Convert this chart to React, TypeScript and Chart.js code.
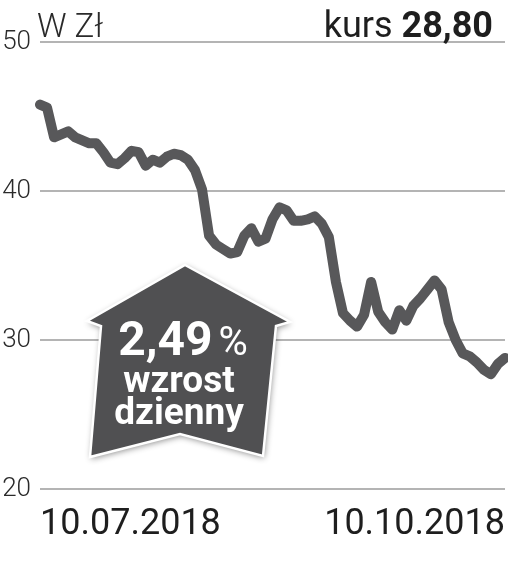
import React, { useEffect, useRef } from "react";
import { Chart, registerables } from "chart.js";

Chart.register(...registerables);

const startLabel = "10.07.2018";
const endLabel = "10.10.2018";
const prices = [
  45.8, 45.6, 43.6, 43.8, 44.0, 43.6, 43.4, 43.2, 43.2, 42.6,
  41.9, 41.8, 42.2, 42.7, 42.6, 41.7, 42.1, 41.9, 42.3, 42.5,
  42.4, 42.1, 41.4, 40.1, 37.0, 36.4, 36.1, 35.8, 35.9, 37.0,
  37.5, 36.6, 36.8, 38.1, 38.9, 38.7, 38.0, 38.0, 38.1, 38.3,
  37.8, 36.9, 33.9, 31.8, 31.3, 30.9, 31.7, 33.9, 31.9, 31.2,
  30.7, 32.0, 31.3, 32.3, 32.8, 33.4, 34.0, 33.4, 31.2, 30.0,
  29.1, 28.9, 28.5, 28.0, 27.7, 28.4, 28.8,
];
const categories = prices.map((_, i) =>
  i === 0 ? startLabel : i === prices.length - 1 ? endLabel : ""
);
const yTicks = [20, 30, 40, 50];
const unitLabel = "W Zł";
const rateLabel = "kurs";
const rateValue = "28,80";
const changeValue = "2,49";
const changeUnit = "%";
const changeLines = ["wzrost", "dzienny"];

const overlayPlugin = {
  id: "overlay",
  afterDraw(chart: any) {
    const ctx = chart.ctx as CanvasRenderingContext2D;
    ctx.save();
    // header texts
    ctx.fillStyle = "#2a2a2a";
    ctx.textBaseline = "alphabetic";
    ctx.textAlign = "left";
    ctx.font = "300 33px Roboto";
    ctx.fillText(unitLabel, 37, 37);
    ctx.font = "bold 36px Roboto";
    const vw = ctx.measureText(rateValue).width;
    ctx.fillStyle = "#1e1e1e";
    ctx.fillText(rateValue, 493 - vw, 37);
    ctx.font = "400 36px Roboto";
    const rw = ctx.measureText(rateLabel + " ").width;
    ctx.fillText(rateLabel, 493 - vw - rw, 37);

    // badge
    const pts: [number, number][] = [
      [185, 265],
      [290, 322],
      [276, 326],
      [263, 456],
      [180, 434],
      [90, 457],
      [101, 326],
      [87, 321],
    ];
    ctx.beginPath();
    pts.forEach(([x, y], i) => (i === 0 ? ctx.moveTo(x, y) : ctx.lineTo(x, y)));
    ctx.closePath();
    ctx.shadowColor = "rgba(0,0,0,0.45)";
    ctx.shadowBlur = 6;
    ctx.shadowOffsetX = 1;
    ctx.shadowOffsetY = 2;
    ctx.fillStyle = "#505052";
    ctx.fill();
    ctx.shadowColor = "transparent";
    ctx.lineWidth = 2.5;
    ctx.strokeStyle = "#ffffff";
    ctx.lineJoin = "miter";
    ctx.stroke();

    ctx.fillStyle = "#ffffff";
    ctx.font = "bold 48px Roboto";
    const cw = ctx.measureText(changeValue).width;
    ctx.font = "400 40px Roboto";
    const pw = ctx.measureText(changeUnit).width;
    const gap = 6;
    const total = cw + gap + pw;
    const cx = 183;
    const x0 = cx - total / 2;
    ctx.font = "bold 48px Roboto";
    ctx.fillText(changeValue, x0, 355);
    ctx.font = "400 40px Roboto";
    ctx.fillText(changeUnit, x0 + cw + gap, 355);
    ctx.textAlign = "center";
    ctx.font = "bold 37px Roboto";
    ctx.fillText(changeLines[0], cx - 4, 392);
    ctx.fillText(changeLines[1], cx - 4, 424);
    ctx.restore();
  },
};

export default function App() {
  const ref = useRef<HTMLCanvasElement | null>(null);
  useEffect(() => {
    document.body.style.margin = "0";
    const chart = new Chart(ref.current!, {
      type: "line",
      data: {
        labels: categories,
        datasets: [
          {
            data: prices,
            borderColor: "#58585a",
            borderWidth: 10,
            borderCapStyle: "round",
            borderJoinStyle: "round",
            pointRadius: 0,
            pointHoverRadius: 0,
            tension: 0,
            fill: false,
          },
        ],
      },
      options: {
        animation: false,
        responsive: false,
        devicePixelRatio: 1,
        layout: { autoPadding: false, padding: { top: 42, right: 3, left: 0, bottom: 0 } },
        plugins: { legend: { display: false }, tooltip: { enabled: false } },
        scales: {
          x: {
            grid: { display: false, drawTicks: false },
            border: { display: false },
            afterFit: (s: any) => {
              s.height = 565 - 489;
              s.paddingLeft = 0;
              s.paddingRight = 0;
            },
            ticks: {
              autoSkip: false,
              maxRotation: 0,
              minRotation: 0,
              align: "inner",
              padding: 14,
              color: "#1e1e1e",
              font: { family: "Roboto", size: 36, weight: "400" },
            },
          },
          y: {
            min: 20,
            max: 50,
            afterFit: (s: any) => {
              s.width = 40;
            },
            afterBuildTicks: (s: any) => {
              s.ticks = yTicks.map((v) => ({ value: v }));
            },
            grid: { color: "#b4b4b4", lineWidth: 2, drawTicks: false },
            border: { display: false },
            ticks: {
              padding: 9,
              color: "#2a2a2a",
              font: { family: "Roboto", size: 26, weight: "300" },
            },
          },
        },
      },
      plugins: [overlayPlugin],
    });
    return () => chart.destroy();
  }, []);
  return (
    <div style={{ position: "absolute", left: 0, top: 0, width: 508, height: 565 }}>
      <canvas ref={ref} width={508} height={565} />
    </div>
  );
}
